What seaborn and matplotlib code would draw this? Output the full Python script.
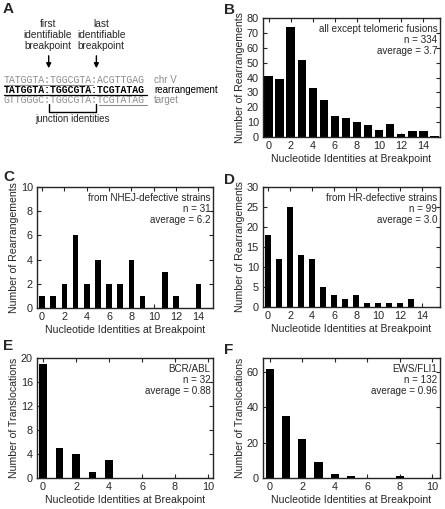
import numpy as np
import pandas as pd
import matplotlib
matplotlib.use('Agg')
import matplotlib.pyplot as plt
import seaborn as sns

# Histogram data
ident_b = list(range(16))
count_b = [41, 39, 74, 52, 33, 25, 14, 13, 10, 8, 5, 9, 2, 4, 4, 1]

ident_c = list(range(15))
count_c = [1, 1, 2, 6, 2, 4, 2, 2, 4, 1, 0, 3, 1, 0, 2]

ident_d = list(range(15))
count_d = [18, 12, 25, 13, 12, 5, 3, 2, 3, 1, 1, 1, 1, 2, 0]

ident_e = list(range(5))
count_e = [19, 5, 4, 1, 3]

ident_f = list(range(9))
count_f = [62, 35, 22, 9, 2, 1, 0, 0, 1]

# Sequences for panel A
seq_chr = 'TATGGTA:TGGCGTA:ACGTTGAG'
seq_rearr = 'TATGGTA:TGGCGTA:TCGTATAG'
seq_target = 'GTTGGGC:TGGCGTA:TCGTATAG'

sns.set_style('ticks')
plt.rcParams['font.family'] = ['Liberation Sans', 'DejaVu Sans']
plt.rcParams['font.size'] = 7

W, H = 445, 509
fig = plt.figure(figsize=(W / 100, H / 100), dpi=100)


def px_axes(left, top, right, bottom):
    return fig.add_axes([left / W, 1 - bottom / H, (right - left) / W, (bottom - top) / H])


# Panel A diagram, drawn in pixel coordinates
ax0 = fig.add_axes([0, 0, 1, 1])
ax0.set_xlim(0, W)
ax0.set_ylim(H, 0)
ax0.axis('off')

grey = '#8c8c8c'
cw = 5.96  # monospace character width in px
x0 = 4
mono = dict(family='Liberation Mono', fontsize=cw / 0.6 * 0.72, va='center', ha='left')
ax0.text(x0, 80, seq_chr, color=grey, **mono)
ax0.text(x0, 90, seq_rearr, color='black', fontweight='bold', **mono)
ax0.text(x0, 100, seq_target, color=grey, **mono)
ax0.plot([x0, x0 + 15 * cw], [85, 85], color=grey, lw=0.8)
ax0.plot([x0, x0 + 24 * cw], [95, 95], color='black', lw=0.9)
ax0.plot([x0 + 16 * cw, x0 + 24 * cw], [105, 105], color=grey, lw=0.8)
ax0.text(154, 80, 'chr V', color=grey, fontsize=7, va='center')
ax0.text(154, 90, 'rearrangement', color='black', fontsize=7, va='center')
ax0.text(154, 100, 'target', color=grey, fontsize=7, va='center')

xa = x0 + 7.5 * cw
xb = x0 + 15.5 * cw
ax0.plot([xa, xa, xb, xb], [104, 112, 112, 104], color='black', lw=1)
ax0.text((xa + xb) / 2, 119, 'junction identities', fontsize=7, ha='center', va='center')
ax0.text(xa - 1, 35, 'first\nidentifiable\nbreakpoint', fontsize=7.3, ha='center', va='center',
         linespacing=1.15)
ax0.text(xb + 5, 35, 'last\nidentifiable\nbreakpoint', fontsize=7.3, ha='center', va='center',
         linespacing=1.15)
for xx in (xa, xb):
    ax0.annotate('', xy=(xx, 71), xytext=(xx, 53),
                 arrowprops=dict(arrowstyle='-|>', color='black', lw=1, mutation_scale=7))

for lab, (lx, ly) in zip('ABCDEF', [(3, 9), (224, 10), (3, 177), (224, 180), (3, 346), (224, 350)]):
    ax0.text(lx, ly, lab, fontsize=11, fontweight='bold', va='center', ha='left')


def hist_panel(ax, x, y, width, xlim, ylim, yticks, xticks, ylabel, note):
    df = pd.DataFrame({'ident': x, 'count': y})
    sns.barplot(data=df, x='ident', y='count', native_scale=True, width=width,
                color='black', saturation=1, edgecolor='black', linewidth=0, ax=ax)
    ax.set_xlim(*xlim)
    ax.set_ylim(*ylim)
    ax.set_yticks(yticks)
    ax.set_xticks(xticks)
    ax.set_xticklabels([str(t) for t in xticks])
    ax.set_yticklabels([str(t) for t in yticks])
    ax.set_xlabel('Nucleotide Identities at Breakpoint', fontsize=7.6, labelpad=2)
    ax.set_ylabel(ylabel, fontsize=7.6, labelpad=1)
    ax.tick_params(direction='in', length=3, width=0.8, top=True, right=True, pad=3,
                   labelsize=7.8)
    for s in ax.spines.values():
        s.set_linewidth(1)
        s.set_visible(True)
    ax.text(0.985, 0.95, note, transform=ax.transAxes, ha='right', va='top',
            fontsize=7.1, linespacing=1.1)


axB = px_axes(263, 18, 440, 137)
hist_panel(axB, ident_b, count_b, 0.76, (-0.5, 15.5), (0, 80), list(range(0, 81, 10)),
           list(range(0, 15, 2)), 'Number of Rearrangements',
           'all except telomeric fusions\nn = 334\naverage = 3.7')

axC = px_axes(37, 187, 213, 308)
hist_panel(axC, ident_c, count_c, 0.5, (-0.45, 15.3), (0, 10), list(range(0, 11, 2)),
           list(range(0, 15, 2)), 'Number of Rearrangements',
           'from NHEJ-defective strains\nn = 31\naverage = 6.2')

axD = px_axes(263, 187, 440, 307)
hist_panel(axD, ident_d, count_d, 0.55, (-0.45, 15.6), (0, 30), list(range(0, 31, 5)),
           list(range(0, 15, 2)), 'Number of Rearrangements',
           'from HR-defective strains\nn = 99\naverage = 3.0')

axE = px_axes(37, 358, 213, 478)
hist_panel(axE, ident_e, count_e, 0.47, (-0.37, 10.3), (0, 20), list(range(0, 21, 4)),
           list(range(0, 11, 2)), 'Number of Translocations',
           'BCR/ABL\nn = 32\naverage = 0.88')

axF = px_axes(263, 358, 440, 478)
hist_panel(axF, ident_f, count_f, 0.5, (-0.41, 10.47), (0, 68), list(range(0, 61, 20)),
           list(range(0, 11, 2)), 'Number of Translocations',
           'EWS/FLI1\nn = 132\naverage = 0.96')

fig.savefig('out.png', dpi=100)
